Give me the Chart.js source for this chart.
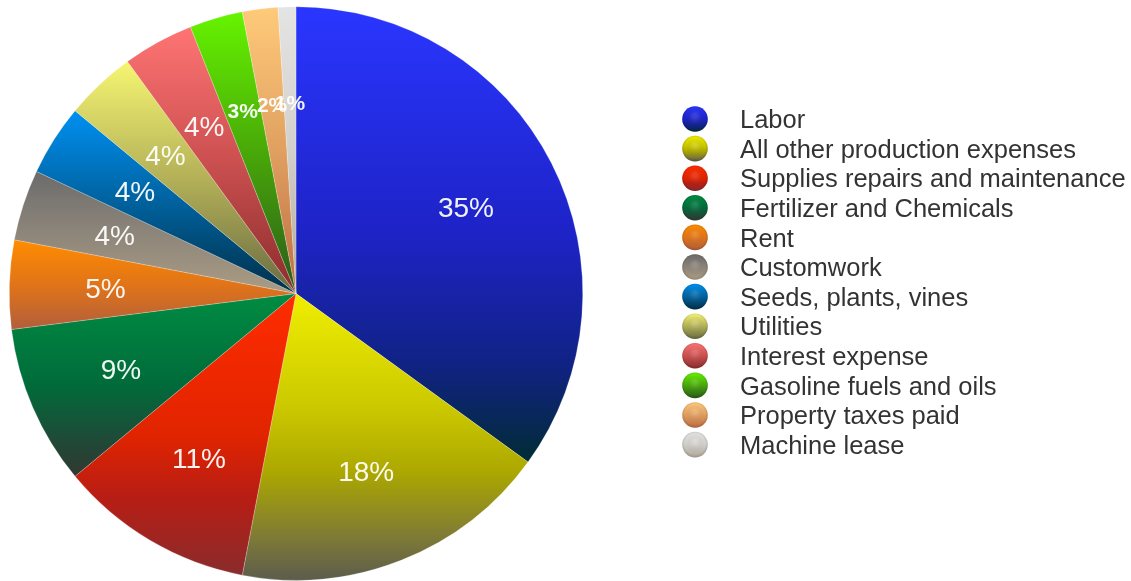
<!DOCTYPE html>
<html lang="en">
<head>
    <meta charset="UTF-8">
    <title>Production Expenses</title>
    <style>
        body {
            margin: 0;
            background-color: #ffffff;
        }
        .chart-container {
            width: 1131px;
            height: 581px;
        }
    </style>
</head>
<body>
    <div class="chart-container">
        <canvas id="expenseChart"></canvas>
    </div>

    <script src="https://cdn.jsdelivr.net/npm/chart.js"></script>

    <script>
        const categories = [
            'Labor',
            'All other production expenses',
            'Supplies repairs and maintenance',
            'Fertilizer and Chemicals',
            'Rent',
            'Customwork',
            'Seeds, plants, vines',
            'Utilities',
            'Interest expense',
            'Gasoline fuels and oils',
            'Property taxes paid',
            'Machine lease'
        ];
        const shares = [35, 18, 11, 9, 5, 4, 4, 4, 4, 3, 2, 1];

        // vertical colour ramps for each slice, light at the top, darker at the bottom
        const sliceStops = [
            [[0, '#2a36ff'], [0.5, '#1d23c6'], [0.78, '#112286'], [1, '#012c35']],
            [[0, '#efee00'], [0.4, '#cbc800'], [0.62, '#aca800'], [0.86, '#7c7838'], [1, '#5c5c4c']],
            [[0, '#ff2c00'], [0.5, '#e12400'], [0.72, '#b81d14'], [1, '#892c2c']],
            [[0, '#008c42'], [0.5, '#006b3a'], [0.8, '#1f4a38'], [1, '#323830']],
            [[0, '#ff8c00'], [0.5, '#e17418'], [1, '#b25e3c']],
            [[0, '#6b6b6b'], [0.5, '#8d857a'], [1, '#ab9d84']],
            [[0, '#0090f2'], [0.5, '#00629e'], [1, '#002f48']],
            [[0, '#f6f672'], [0.5, '#b4b158'], [1, '#686a42']],
            [[0, '#ff7474'], [0.5, '#cc5050'], [1, '#8a2c2c']],
            [[0, '#66f400'], [0.5, '#48a808'], [1, '#2a5a1c']],
            [[0, '#ffca7a'], [0.5, '#e0a060'], [1, '#bd6c44']],
            [[0, '#e4e4e4'], [0.5, '#d2d0cc'], [1, '#b0a898']]
        ];

        function sliceGradient(context) {
            const i = context.dataIndex;
            const stops = sliceStops[i];
            const chart = context.chart;
            const area = chart.chartArea;
            if (!area) {
                return stops[0][1];
            }
            const cx = (area.left + area.right) / 2;
            const cy = (area.top + area.bottom) / 2;
            const r = Math.min(area.width, area.height) / 2;
            const data = context.dataset.data;
            const total = data.reduce((a, b) => a + b, 0);
            let before = 0;
            for (let k = 0; k < i; k++) before += data[k];
            const a0 = -Math.PI / 2 + before / total * 2 * Math.PI;
            const a1 = a0 + data[i] / total * 2 * Math.PI;

            let top = Math.min(cy, cy + r * Math.sin(a0), cy + r * Math.sin(a1));
            let bottom = Math.max(cy, cy + r * Math.sin(a0), cy + r * Math.sin(a1));
            const covers = (a) => {
                for (let t = a - 4 * Math.PI; t <= a + 4 * Math.PI; t += 2 * Math.PI) {
                    if (t > a0 && t < a1) return true;
                }
                return false;
            };
            if (covers(-Math.PI / 2)) top = cy - r;
            if (covers(Math.PI / 2)) bottom = cy + r;

            const g = chart.ctx.createLinearGradient(0, top, 0, bottom);
            stops.forEach(([o, c]) => g.addColorStop(o, c));
            return g;
        }

        // percentage text inside each slice
        const sliceLabels = {
            id: 'sliceLabels',
            afterDatasetsDraw(chart) {
                const ctx = chart.ctx;
                const meta = chart.getDatasetMeta(0);
                ctx.save();
                ctx.textAlign = 'center';
                ctx.textBaseline = 'alphabetic';
                ctx.fillStyle = 'rgba(255, 255, 255, 0.94)';
                meta.data.forEach((arc, i) => {
                    const p = arc.getProps(['x', 'y', 'startAngle', 'endAngle', 'outerRadius'], true);
                    const mid = (p.startAngle + p.endAngle) / 2;
                    const dist = p.outerRadius * 0.665;
                    const small = shares[i] < 4;
                    const size = small ? 21 : 28;
                    ctx.font = (small ? 'bold ' : '') + size + 'px "Liberation Sans", Arial, sans-serif';
                    const x = p.x + Math.cos(mid) * dist;
                    const y = p.y + Math.sin(mid) * dist;
                    ctx.fillText(shares[i] + '%', x, y + size * 0.36);
                });
                ctx.restore();
            }
        };

        // legend with shaded round markers on the right
        const sideLegend = {
            id: 'sideLegend',
            afterDraw(chart) {
                const ctx = chart.ctx;
                const firstRow = 119;
                const rowStep = 29.6;
                const markerX = 695;
                const markerR = 12.8;
                const textX = 740;
                const fontSize = 25.5;
                ctx.save();
                categories.forEach((name, i) => {
                    const y = firstRow + i * rowStep;
                    const g = ctx.createLinearGradient(0, y - markerR, 0, y + markerR);
                    sliceStops[i].forEach(([o, c]) => g.addColorStop(o, c));
                    ctx.beginPath();
                    ctx.arc(markerX, y, markerR, 0, Math.PI * 2);
                    ctx.fillStyle = g;
                    ctx.fill();
                    const shade = ctx.createRadialGradient(markerX, y - 3, 2, markerX, y, markerR);
                    shade.addColorStop(0, 'rgba(255,255,255,0.12)');
                    shade.addColorStop(0.75, 'rgba(0,0,0,0)');
                    shade.addColorStop(1, 'rgba(0,0,0,0.12)');
                    ctx.fillStyle = shade;
                    ctx.fill();

                    ctx.font = fontSize + 'px "Liberation Sans", Arial, sans-serif';
                    ctx.fillStyle = '#333333';
                    ctx.textAlign = 'left';
                    ctx.textBaseline = 'alphabetic';
                    ctx.fillText(name, textX, y + fontSize * 0.36);
                });
                ctx.restore();
            }
        };

        const ctx = document.getElementById('expenseChart').getContext('2d');
        new Chart(ctx, {
            type: 'pie',
            data: {
                labels: categories,
                datasets: [{
                    data: shares,
                    backgroundColor: sliceGradient,
                    borderColor: 'rgba(255, 255, 255, 0.45)',
                    borderWidth: 0.5
                }]
            },
            options: {
                responsive: true,
                maintainAspectRatio: false,
                animation: false,
                layout: {
                    padding: { left: 9, top: 6.5, right: 548, bottom: 0.5 }
                },
                plugins: {
                    legend: { display: false },
                    tooltip: { enabled: false }
                }
            },
            plugins: [sliceLabels, sideLegend]
        });
    </script>
</body>
</html>
